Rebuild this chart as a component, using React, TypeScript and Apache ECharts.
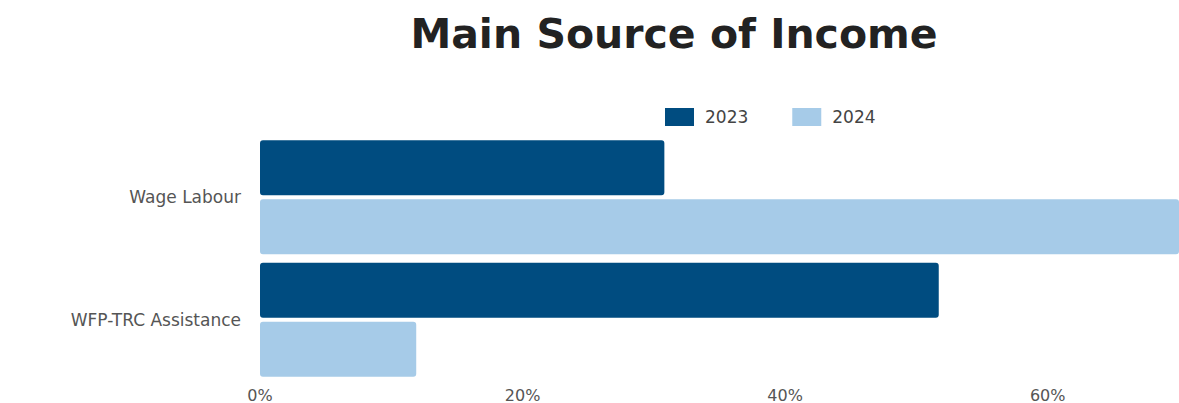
import React, { useEffect, useRef } from "react";
import * as echarts from "echarts";

const categories = ["Wage Labour", "WFP-TRC Assistance"];
const seriesNames = ["2023", "2024"];
const values2023 = [30.8, 51.7];
const values2024 = [72, 11.9];
const colors = ["#004C80", "#A6CBE8"];

export default function App() {
  const ref = useRef<HTMLDivElement>(null);
  useEffect(() => {
    document.body.style.margin = "0";
    const chart = echarts.init(ref.current!, null, { renderer: "svg" });
    const font = "'DejaVu Sans', 'Open Sans', sans-serif";
    chart.setOption({
      animation: false,
      title: {
        text: "Main Source of Income",
        left: 669,
        textAlign: "center",
        top: 8,
        textStyle: { fontSize: 41, fontWeight: "bold", color: "#222", fontFamily: font },
      },
      legend: {
        left: 660,
        top: 103,
        itemWidth: 29,
        itemHeight: 18,
        itemGap: 44,
        icon: "rect",
        textStyle: { fontSize: 17, color: "#444", fontFamily: font, padding: [0, 0, 0, 6] },
        data: seriesNames,
      },
      grid: { left: 260, right: 0, top: 136, bottom: 19, containLabel: false },
      xAxis: {
        type: "value",
        min: 0,
        max: 70,
        interval: 20,
        axisLabel: {
          formatter: "{value}%",
          showMaxLabel: false,
          fontSize: 16,
          color: "#555",
          fontFamily: font,
          margin: 6,
        },
        splitLine: { show: false },
        axisLine: { show: false },
        axisTick: { show: false },
      },
      yAxis: {
        type: "category",
        inverse: true,
        data: categories,
        axisLabel: { fontSize: 17, color: "#555", fontFamily: font, margin: 19 },
        axisLine: { show: false },
        axisTick: { show: false },
      },
      series: [
        {
          name: seriesNames[0],
          type: "bar",
          data: values2023,
          barWidth: 55,
          barGap: "7%",
          itemStyle: { color: colors[0], borderRadius: 3 },
        },
        {
          name: seriesNames[1],
          type: "bar",
          data: values2024,
          barWidth: 55,
          barGap: "7%",
          itemStyle: { color: colors[1], borderRadius: 3 },
        },
      ],
    });
    return () => chart.dispose();
  }, []);
  return <div ref={ref} style={{ width: 1179, height: 403 }} />;
}
